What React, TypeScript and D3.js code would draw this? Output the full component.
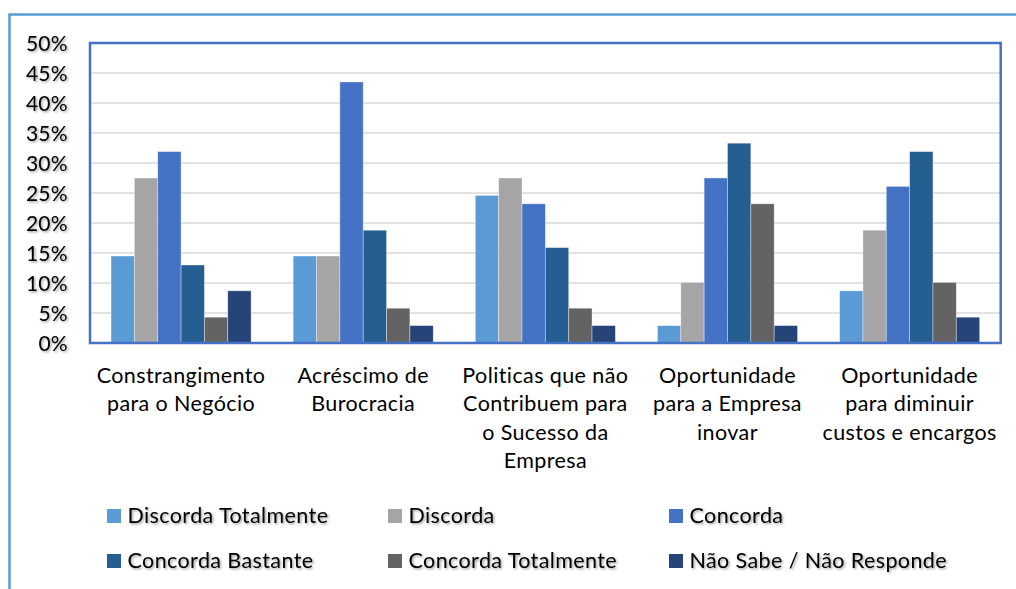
import React from "react";
import * as d3 from "d3";

const categories: string[][] = [
  ["Constrangimento", "para o Negócio"],
  ["Acréscimo de", "Burocracia"],
  ["Politicas que não", "Contribuem para", "o Sucesso da", "Empresa"],
  ["Oportunidade", "para a Empresa", "inovar"],
  ["Oportunidade", "para diminuir", "custos e encargos"],
];

const seriesNames = [
  "Discorda Totalmente",
  "Discorda",
  "Concorda",
  "Concorda Bastante",
  "Concorda Totalmente",
  "Não Sabe / Não Responde",
];

const discordaTotalmente = [14.5, 14.5, 24.6, 2.9, 8.7];
const discorda = [27.5, 14.5, 27.5, 10.1, 18.8];
const concorda = [31.9, 43.5, 23.2, 27.5, 26.1];
const concordaBastante = [13.0, 18.8, 15.9, 33.3, 31.9];
const concordaTotalmente = [4.3, 5.8, 5.8, 23.2, 10.1];
const naoSabe = [8.7, 2.9, 2.9, 2.9, 4.3];

const seriesValues = [
  discordaTotalmente,
  discorda,
  concorda,
  concordaBastante,
  concordaTotalmente,
  naoSabe,
];

const colors = ["#5B9BD5", "#A5A5A5", "#4472C4", "#255E91", "#636363", "#264478"];

const yTicks = [0, 5, 10, 15, 20, 25, 30, 35, 40, 45, 50];

export default function App() {
  const left = 90;
  const right = 1000.7;
  const top = 43;
  const bottom = 343;
  const font = "Lato, 'Open Sans', sans-serif";

  const x0 = d3
    .scaleBand<number>()
    .domain(categories.map((_, i) => i))
    .range([left, right])
    .paddingInner(0.231)
    .paddingOuter(0.1155);
  const x1 = d3
    .scaleBand<number>()
    .domain(seriesNames.map((_, i) => i))
    .range([0, x0.bandwidth()]);
  const y = d3.scaleLinear().domain([0, 50]).range([bottom, top]);

  const legendPos = [
    { x: 107, y: 509 },
    { x: 388, y: 509 },
    { x: 669, y: 509 },
    { x: 107, y: 554 },
    { x: 388, y: 554 },
    { x: 669, y: 554 },
  ];

  return (
    <svg
      width={1016}
      height={589}
      style={{ position: "absolute", left: 0, top: 0, background: "#fff" }}
      fontFamily={font}
    >
      <defs>
        <filter id="shadow" x="-10%" y="-30%" width="130%" height="170%">
          <feDropShadow dx="1.3" dy="1.3" stdDeviation="1" floodColor="#000" floodOpacity="0.4" />
        </filter>
      </defs>
      <rect x={0} y={0} width={1016} height={589} fill="#fff" />
      {/* outer frame */}
      <rect x={9.5} y={14.5} width={1020} height={600} fill="none" stroke="#5B9BD5" strokeWidth={2.5} />

      {/* gridlines */}
      {yTicks
        .filter((t) => t > 0 && t < 50)
        .map((t) => (
          <line key={t} x1={left} x2={right} y1={y(t)} y2={y(t)} stroke="#D9D9D9" strokeWidth={1.5} />
        ))}

      {/* bars */}
      {seriesValues.map((vals, s) =>
        vals.map((v, c) => (
          <rect
            key={`${s}-${c}`}
            x={(x0(c) as number) + (x1(s) as number)}
            y={y(v)}
            width={x1.bandwidth()}
            height={bottom - y(v)}
            fill={colors[s]}
            stroke="#ffffff"
            strokeOpacity={0.45}
            strokeWidth={0.8}
          />
        ))
      )}

      {/* plot border */}
      <rect
        x={left}
        y={top}
        width={right - left}
        height={bottom - top}
        fill="none"
        stroke="#4472C4"
        strokeWidth={2.5}
      />

      {/* y tick labels */}
      <g filter="url(#shadow)">
        {yTicks.map((t) => (
          <text
            key={t}
            x={68}
            y={y(t)}
            dy="0.36em"
            textAnchor="end"
            fontSize={21}
            letterSpacing={0.3}
            fill="#000"
          >
            {d3.format("d")(t)}%
          </text>
        ))}
      </g>

      {/* category labels */}
      {categories.map((lines, c) => (
        <text
          key={c}
          x={(x0(c) as number) + x0.bandwidth() / 2}
          textAnchor="middle"
          fontSize={21.5}
          letterSpacing={0.4}
          fill="#000"
        >
          {lines.map((ln, k) => (
            <tspan key={k} x={(x0(c) as number) + x0.bandwidth() / 2} y={383 + k * 28.4}>
              {ln}
            </tspan>
          ))}
        </text>
      ))}

      {/* legend */}
      {seriesNames.map((name, s) => (
        <g key={name}>
          <rect x={legendPos[s].x} y={legendPos[s].y} width={14} height={14} fill={colors[s]} />
          <text
            x={legendPos[s].x + 20.5}
            y={legendPos[s].y + 14}
            fontSize={21.5}
            letterSpacing={0.4}
            fill="#000"
            filter="url(#shadow)"
          >
            {name}
          </text>
        </g>
      ))}
    </svg>
  );
}
